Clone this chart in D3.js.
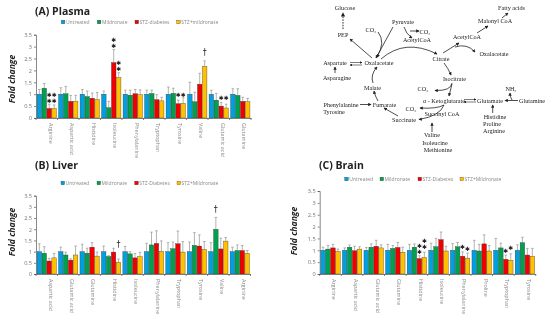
<!DOCTYPE html>
<html>

<head>
  <meta charset="UTF-8">
  <script src="https://d3js.org/d3.v7.min.js"></script>
  <style>
    html, body { margin: 0; padding: 0; background: #fff; }
    /* the source picture is a soft, scaled-down figure */
    svg { display: block; filter: blur(0.3px); }
  </style>
</head>

<body>
  <svg id="chart" width="550" height="320"></svg>

  <script>
    // Tick labels and colours shared by the panels
    const yTicks = [ 0, 0.5, 1, 1.5, 2, 2.5, 3, 3.5 ];
    const barColors = [ "#00a0e0", "#00a050", "#f00000", "#ffc000" ];

    // Plasma
    const plasmaNames = [ "Arginine", "Aspartic acid", "Histidine", "Isoleucine", "Phenylalanine", "Tryptophan", "Tyrosine", "Valine", "Glutamic acid", "Glutamine" ];
    const plasmaLegend = [ "Untreated", "Mildronate", "STZ-diabetes", "STZ+mildronate" ];
    const plasmaUntreated = [ 1, 1, 1, 1, 1, 1, 1, 1, 1, 1 ];
    const plasmaMildronate = [ 1.25, 1.02, 0.9, 0.43, 0.96, 1.03, 1.04, 0.68, 0.75, 0.95 ];
    const plasmaDiabetes = [ 0.4, 0.7, 0.83, 2.33, 1.02, 0.77, 0.6, 1.42, 0.5, 0.7 ];
    const plasmaCombo = [ 0.4, 0.7, 0.78, 1.7, 0.98, 0.72, 0.62, 2.17, 0.42, 0.68 ];
    const plasmaUntreatedTop = [ 1.2, 1.27, 1.2, 1.13, 1.17, 1.17, 1.3, 1.5, 1.17, 1.23 ];
    const plasmaMildronateTop = [ 1.45, 1.32, 1.13, 0.7, 1.17, 1.17, 1.25, 1.08, 1.03, 1.23 ];
    const plasmaDiabetesTop = [ 0.58, 0.95, 1.05, 2.88, 1.2, 0.98, 0.75, 1.88, 0.65, 0.87 ];
    const plasmaComboTop = [ 0.55, 0.95, 1.07, 1.9, 1.18, 0.87, 0.85, 2.4, 0.58, 0.82 ];
    // [ group, series, height on the y scale, symbol ]
    const plasmaMarks = [
      [ 0, 2, 0.97, "✱" ], [ 0, 2, 0.71, "✱" ], [ 0, 3, 0.97, "✱" ], [ 0, 3, 0.71, "✱" ],
      [ 3, 2, 3.27, "✱" ], [ 3, 2, 3.02, "✱" ], [ 3, 3, 2.3, "✱" ], [ 3, 3, 2.06, "✱" ],
      [ 6, 2, 0.97, "✱" ], [ 6, 3, 0.97, "✱" ], [ 7, 3, 2.76, "†" ],
      [ 8, 2, 0.84, "✱" ], [ 8, 3, 0.84, "✱" ]
    ];

    // Liver
    const liverNames = [ "Aspartic acid", "Glutamic acid", "Glutamine", "Histidine", "Isoleucine", "Phenylalanine", "Tryptophan", "Tyrosine", "Valine", "Arginine" ];
    const liverLegend = [ "Untreated", "Mildronate", "STZ-Diabetes", "STZ+Mildronate" ];
    const liverUntreated = [ 1, 1, 1, 1, 1, 1, 1, 1, 1, 1 ];
    const liverMildronate = [ 0.93, 0.85, 0.93, 0.78, 0.9, 1.3, 1.13, 1.28, 2, 1.05 ];
    const liverDiabetes = [ 0.58, 0.62, 1.2, 0.98, 0.72, 1.37, 1.35, 1.25, 1.12, 1.05 ];
    const liverCombo = [ 0.72, 0.85, 0.8, 0.53, 0.77, 1.02, 0.98, 1.1, 1.47, 0.93 ];
    const liverUntreatedTop = [ 1.35, 1.2, 1.33, 1.25, 1.23, 1.37, 1.4, 1.43, 1.4, 1.2 ];
    const liverMildronateTop = [ 1.22, 0.97, 1.15, 0.82, 1, 1.87, 1.43, 1.85, 2.53, 1.3 ];
    const liverDiabetesTop = [ 0.7, 0.68, 1.4, 1.15, 0.92, 1.93, 1.92, 1.75, 1.6, 1.27 ];
    const liverComboTop = [ 0.92, 1.25, 0.98, 0.67, 0.97, 1.48, 1.45, 1.45, 1.63, 1.05 ];
    const liverMarks = [ [ 3, 3, 1.3, "†" ], [ 8, 1, 2.89, "†" ] ];

    // Brain
    const brainNames = [ "Arginine", "Aspartic acid", "Glutamic acid", "Glutamine", "Histidine", "Isoleucine", "Phenylalanine", "Proline", "Tryptophan", "Tyrosine" ];
    const brainLegend = [ "Untreated", "Mildronate", "STZ-Diabetes", "STZ+Mildronate" ];
    const brainUntreated = [ 1, 1, 1, 1, 1, 1, 1, 1, 1, 1 ];
    const brainMildronate = [ 1.05, 1.13, 1.13, 1.08, 1.13, 1.15, 1.15, 0.97, 1.1, 1.32 ];
    const brainDiabetes = [ 1.1, 0.98, 1.17, 1.12, 0.65, 1.45, 0.75, 1.27, 0.62, 0.8 ];
    const brainCombo = [ 0.95, 1.05, 1.1, 0.92, 0.7, 0.97, 0.67, 0.97, 0.58, 0.75 ];
    const brainUntreatedTop = [ 1.13, 1.1, 1.12, 1.25, 1.25, 1.3, 1.28, 1.42, 1.5, 1.23 ];
    const brainMildronateTop = [ 1.2, 1.22, 1.27, 1.2, 1.27, 1.5, 1.33, 1.25, 1.3, 1.55 ];
    const brainDiabetesTop = [ 1.25, 1.17, 1.42, 1.33, 0.77, 1.77, 0.93, 1.65, 0.8, 1.08 ];
    const brainComboTop = [ 1.05, 1.15, 1.23, 1.13, 0.92, 1.17, 0.88, 1.2, 0.85, 1.08 ];
    const brainMarks = [
      [ 4, 2, 1.18, "✱" ], [ 4, 2, 0.93, "✱" ], [ 4, 3, 1.39, "✱" ], [ 4, 3, 1.14, "✱" ],
      [ 6, 2, 1.15, "✱" ], [ 6, 3, 1.08, "✱" ], [ 8, 2, 0.99, "✱" ], [ 8, 3, 1.1, "✱" ]
    ];

    const svg = d3.select( "#chart" );
    const sans = "'Open Sans', 'Noto Sans', sans-serif";

    function drawPanel( p ) {
      const g = svg.append( "g" );

      const x = d3.scaleBand().domain( p.names ).range( [ p.left, p.right ] ).paddingInner( 0.08 ).paddingOuter( 0.04 );
      const xBar = d3.scaleBand().domain( d3.range( 4 ) ).range( [ 0, x.bandwidth() ] );
      const y = d3.scaleLinear().domain( [ 0, 3.5 ] ).range( [ p.bottom, p.top ] );

      // Bars and upper error whiskers
      p.series.forEach( function ( values, s ) {
        const tops = p.tops[ s ];
        const bx = function ( i ) { return x( p.names[ i ] ) + xBar( s ); };

        // Whiskers go first so the bar covers the lower end
        g.append( "g" ).selectAll( "path" ).data( values ).enter().append( "path" )
          .attr( "d", function ( d, i ) {
            const cx = bx( i ) + xBar.bandwidth() / 2;
            return "M" + cx + "," + y( d ) + "V" + y( tops[ i ] ) + "M" + ( cx - 1.3 ) + "," + y( tops[ i ] ) + "H" + ( cx + 1.3 );
          } )
          .attr( "fill", "none" )
          .attr( "stroke", "#a0a0a0" )
          .attr( "stroke-width", 0.8 );

        g.append( "g" ).selectAll( "rect" ).data( values ).enter().append( "rect" )
          .attr( "x", function ( d, i ) { return bx( i ) + 0.2; } )
          .attr( "y", function ( d ) { return y( d ); } )
          .attr( "width", xBar.bandwidth() - 0.4 )
          .attr( "height", function ( d ) { return y( 0 ) - y( d ); } )
          .attr( "fill", barColors[ s ] )
          .attr( "stroke", "#333" )
          .attr( "stroke-width", 0.35 );
      } );

      // Axes
      const yAxis = g.append( "g" )
        .attr( "transform", "translate(" + p.left + ",0)" )
        .call( d3.axisLeft( y ).tickValues( yTicks ).tickFormat( d3.format( "" ) ).tickSize( 2 ).tickPadding( 2 ) );
      yAxis.selectAll( "text" ).attr( "font-family", sans ).attr( "font-size", 5.6 ).attr( "fill", "#777" );
      yAxis.selectAll( "path,line" ).attr( "stroke", "#555" ).attr( "stroke-width", 0.7 );

      const xAxis = g.append( "g" )
        .attr( "transform", "translate(0," + p.bottom + ")" )
        .call( d3.axisBottom( x ).tickSize( 0 ).tickPadding( 0 ) );
      xAxis.select( ".domain" ).attr( "stroke", "#555" ).attr( "stroke-width", 0.7 );
      xAxis.selectAll( "text" )
        .attr( "font-family", sans )
        .attr( "font-size", 5.4 )
        .attr( "fill", "#888" )
        .attr( "text-anchor", "start" )
        .attr( "dy", 0 )
        .attr( "transform", "translate(1.8,5) rotate(90)" );

      // Category ticks sit between the groups
      const step = x.step();
      g.append( "g" ).selectAll( "line" ).data( d3.range( p.names.length + 1 ) ).enter().append( "line" )
        .attr( "x1", function ( d ) { return p.left + d * step; } )
        .attr( "x2", function ( d ) { return p.left + d * step; } )
        .attr( "y1", p.bottom )
        .attr( "y2", p.bottom + 2 )
        .attr( "stroke", "#555" )
        .attr( "stroke-width", 0.7 );

      // Significance marks
      g.append( "g" ).selectAll( "text" ).data( p.marks ).enter().append( "text" )
        .attr( "x", function ( d ) { return x( p.names[ d[ 0 ] ] ) + xBar( d[ 1 ] ) + xBar.bandwidth() / 2; } )
        .attr( "y", function ( d ) { return y( d[ 2 ] ); } )
        .attr( "dy", 2.2 )
        .attr( "text-anchor", "middle" )
        .attr( "font-family", "'DejaVu Sans', sans-serif" )
        .attr( "font-size", function ( d ) { return d[ 3 ] === "✱" ? 5.9 : 8; } )
        .attr( "fill", "#222" )
        .text( function ( d ) { return d[ 3 ]; } );

      // Title and y label
      g.append( "text" )
        .attr( "x", p.titleX ).attr( "y", p.titleY )
        .attr( "font-family", sans ).attr( "font-weight", 700 ).attr( "font-size", 10.5 )
        .attr( "fill", "#222" )
        .text( p.title );

      g.append( "text" )
        .attr( "transform", "translate(" + p.labelX + "," + p.labelY + ") rotate(-90)" )
        .attr( "text-anchor", "middle" )
        .attr( "font-family", sans ).attr( "font-weight", 700 ).attr( "font-style", "italic" ).attr( "font-size", 8.6 )
        .attr( "fill", "#222" )
        .text( "Fold change" );

      // Legend
      const lg = g.append( "g" ).selectAll( "g" ).data( p.legend ).enter().append( "g" )
        .attr( "transform", function ( d, i ) { return "translate(" + p.legendX[ i ] + "," + p.legendY + ")"; } );
      lg.append( "rect" )
        .attr( "x", 0 ).attr( "y", -1.8 ).attr( "width", 3.6 ).attr( "height", 3.6 )
        .attr( "fill", function ( d, i ) { return barColors[ i ]; } )
        .attr( "stroke", "#333" ).attr( "stroke-width", 0.3 );
      lg.append( "text" )
        .attr( "x", 4.6 ).attr( "y", 1.8 )
        .attr( "font-family", sans ).attr( "font-size", 5 )
        .attr( "fill", "#888" )
        .text( function ( d ) { return d; } );
    }

    drawPanel( {
      title: "(A) Plasma", titleX: 35, titleY: 14.5, labelX: 14.5, labelY: 79,
      names: plasmaNames, legend: plasmaLegend, marks: plasmaMarks,
      series: [ plasmaUntreated, plasmaMildronate, plasmaDiabetes, plasmaCombo ],
      tops: [ plasmaUntreatedTop, plasmaMildronateTop, plasmaDiabetesTop, plasmaComboTop ],
      left: 36, right: 251, top: 34.7, bottom: 118,
      legendX: [ 61.3, 97.3, 135, 176.7 ], legendY: 22
    } );

    drawPanel( {
      title: "(B) Liver", titleX: 35, titleY: 169, labelX: 14.5, labelY: 232,
      names: liverNames, legend: liverLegend, marks: liverMarks,
      series: [ liverUntreated, liverMildronate, liverDiabetes, liverCombo ],
      tops: [ liverUntreatedTop, liverMildronateTop, liverDiabetesTop, liverComboTop ],
      left: 36, right: 250.5, top: 195.7, bottom: 274,
      legendX: [ 61, 97, 134.7, 177 ], legendY: 183
    } );

    drawPanel( {
      title: "(C) Brain", titleX: 319, titleY: 168.7, labelX: 297, labelY: 231,
      names: brainNames, legend: brainLegend, marks: brainMarks,
      series: [ brainUntreated, brainMildronate, brainDiabetes, brainCombo ],
      tops: [ brainUntreatedTop, brainMildronateTop, brainDiabetesTop, brainComboTop ],
      left: 319.7, right: 535.7, top: 191, bottom: 274,
      legendX: [ 344.7, 380, 418, 460 ], legendY: 179
    } );

    // Metabolic pathway diagram
    const pathwayLabels = [
      [ "Glucose", 345, 10 ], [ "PEP", 343, 36.5 ], [ "CO₂", 371, 32 ], [ "Pyruvate", 403, 24 ],
      [ "CO₂", 425, 34 ], [ "AcetylCoA", 417, 41.5 ], [ "Citrate", 441, 61 ], [ "AcetylCoA", 467, 39 ],
      [ "Malonyl CoA", 495, 23 ], [ "Fatty acids", 511.5, 10 ], [ "Oxalacetate", 494, 56 ],
      [ "Aspartate", 335, 65 ], [ "Oxalacetate", 379, 65 ], [ "Asparagine", 337, 80 ],
      [ "Isocitrate", 454.5, 81 ], [ "Malate", 372.5, 89.5 ], [ "CO₂", 423, 91 ],
      [ "Phenylalanine", 341, 106.5 ], [ "Tyrosine", 334, 114 ], [ "Fumarate", 384.5, 106.5 ],
      [ "α - Ketoglutarate", 444, 102.5 ], [ "Glutamate", 490, 102.5 ], [ "NH₃", 511, 91 ],
      [ "Glutamine", 532, 102.5 ], [ "CO₂", 411, 110.5 ], [ "Succinyl CoA", 442, 116 ],
      [ "Succinate", 404, 122 ], [ "Histidine", 495, 119 ], [ "Proline", 492, 126 ],
      [ "Arginine", 494, 133 ], [ "Valine", 432, 137 ], [ "Isoleucine", 435, 145 ],
      [ "Methionine", 438, 152 ]
    ];

    const pathwayArrows = [
      "M372,58L350,39", "M393,27L376,58", "M378,32Q386,42 377,57", "M381,59Q405,38 437,54",
      "M404,27Q406,34 412,38", "M410,31L419,31", "M443,53L459,43", "M477,33L488,26", "M502,18L508,13",
      "M455,47Q467,43 475,52", "M444,63Q448,68 451,75", "M452,83Q451,91 435,90.5", "M452,84L449,96",
      "M444,105Q437,109 420,108", "M444,105Q440,116 419,119.5", "M432,132L432,123", "M398,116L384,108",
      "M378,101Q375,96 374,91", "M373,83Q370,75 377,67", "M360,104.5L371,104.5", "M335,73L335,67",
      "M492.7,113L492.7,105", "M518,100.5H505", "M512,100Q510,97 510,93"
    ];

    const pathwayPlainLines = [ "M350,62.5H362", "M362,65H350", "M464,99.5H476", "M476,102H464" ];

    const defs = svg.append( "defs" );
    defs.append( "marker" )
      .attr( "id", "head" )
      .attr( "viewBox", "0 0 6 6" ).attr( "refX", 5 ).attr( "refY", 3 )
      .attr( "markerWidth", 4.2 ).attr( "markerHeight", 4.2 ).attr( "orient", "auto" )
      .append( "path" ).attr( "d", "M0,0L6,3L0,6Z" ).attr( "fill", "#222" );

    const diagram = svg.append( "g" );

    diagram.selectAll( "path.arrow" ).data( pathwayArrows ).enter().append( "path" )
      .attr( "class", "arrow" )
      .attr( "d", function ( d ) { return d; } )
      .attr( "fill", "none" ).attr( "stroke", "#222" ).attr( "stroke-width", 0.8 )
      .attr( "marker-end", "url(#head)" );

    diagram.selectAll( "path.swap" ).data( pathwayPlainLines ).enter().append( "path" )
      .attr( "class", "swap" )
      .attr( "d", function ( d ) { return d; } )
      .attr( "fill", "none" ).attr( "stroke", "#222" ).attr( "stroke-width", 0.6 )
      .attr( "marker-end", "url(#head)" );

    // Glucose <- PEP is the only dashed one
    diagram.append( "path" )
      .attr( "d", "M343,29V13" )
      .attr( "fill", "none" ).attr( "stroke", "#222" ).attr( "stroke-width", 1 )
      .attr( "stroke-dasharray", "1.5,1.2" )
      .attr( "marker-end", "url(#head)" );

    diagram.selectAll( "text" ).data( pathwayLabels ).enter().append( "text" )
      .attr( "x", function ( d ) { return d[ 1 ]; } )
      .attr( "y", function ( d ) { return d[ 2 ]; } )
      .attr( "text-anchor", "middle" )
      .attr( "font-family", "'Liberation Serif', serif" )
      .attr( "font-size", 6.2 )
      .attr( "fill", "#222" )
      .text( function ( d ) { return d[ 0 ]; } );
  </script>
</body>

</html>
